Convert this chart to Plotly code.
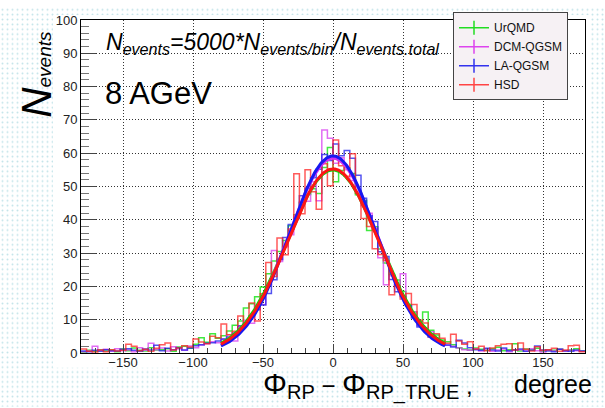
import base64
import numpy as np
import plotly.graph_objects as go

# ---------------- data ----------------
series_names = ["UrQMD", "DCM-QGSM", "LA-QGSM", "HSD"]
bin_low, bin_high, bin_width = -180, 180, 4

urqmd = [0.3, 0.8, 0.5, 1.0, 0.6, 0.9, 0.4, 1.2, 0.7, 1.5, 0.8, 0.6, 1.6, 0.9, 1.0, 1.3, 0.5, 1.8, 2.0, 1.4, 2.6, 4.6,
         3.2, 5.8, 4.4, 5.2, 6.6, 8.3, 9.6, 13.5, 14.8, 16.9, 19.8, 23.8, 27.6, 30.5, 33.8, 38.2, 41.5, 45.1, 47.6, 49.3, 47.9, 55.7, 61.7,
         51.4, 54.8, 55.6, 53.9, 47.5, 45.8, 36.8, 37.9, 31.2, 27.0, 23.6, 21.9, 18.5, 14.6, 12.3, 9.5, 12.3, 6.8, 5.4, 3.9, 3.4, 2.5, 1.6,
         1.2, 0.9, 1.5, 1.1, 0.8, 1.3, 1.7, 0.7, 1.0, 2.8, 0.6, 1.2, 0.9, 1.4, 0.5, 1.0, 0.8, 1.1, 0.7, 0.9, 1.3, 0.6]
dcm_qgsm = [0.4, 0.6, 2.0, 0.8, 1.1, 0.5, 1.3, 0.7, 0.9, 0.4, 1.6, 0.8, 2.9, 1.0, 1.5, 0.6, 1.9, 1.2, 0.8, 2.1, 1.6, 2.4,
            2.8, 3.4, 3.1, 4.1, 5.5, 3.6, 8.2, 9.8, 8.9, 14.4, 14.6, 20.5, 30.8, 27.5, 31.9, 35.5, 41.3, 45.4, 45.6, 51.4, 45.7, 67.0, 64.5,
            57.0, 58.6, 55.0, 51.8, 48.6, 44.2, 42.0, 37.5, 28.6, 20.5, 23.2, 20.3, 23.8, 14.2, 12.4, 8.2, 7.6, 6.4, 4.4, 3.1, 2.3, 2.0, 1.5,
            1.0, 0.8, 1.3, 0.6, 1.1, 0.5, 0.9, 1.2, 0.4, 0.8, 1.0, 0.6, 1.3, 0.7, 0.3, 0.9, 0.6, 1.1, 0.5, 0.8, 0.7, 0.5]
la_qgsm = [0.6, 0.4, 0.8, 0.5, 1.0, 0.7, 0.6, 1.1, 1.3, 0.8, 0.5, 1.2, 0.9, 2.3, 0.7, 1.4, 1.0, 1.6, 0.9, 1.5, 2.2, 2.5,
           2.9, 3.1, 3.6, 4.2, 4.8, 6.0, 8.1, 8.9, 11.2, 13.0, 14.4, 17.9, 22.0, 28.1, 34.7, 38.6, 40.4, 47.2, 49.5, 52.6, 55.2, 59.6, 57.8,
           62.8, 59.2, 60.8, 58.5, 53.4, 46.5, 41.2, 39.5, 30.4, 29.0, 22.1, 18.4, 17.0, 14.2, 10.5, 7.8, 7.0, 4.8, 3.9, 3.0, 2.4, 1.8, 3.8,
           3.0, 1.6, 1.0, 0.8, 1.4, 0.9, 0.6, 1.5, 0.7, 1.0, 1.2, 0.5, 0.8, 2.1, 0.9, 0.6, 0.4, 1.1, 0.7, 0.5, 0.9, 0.6]
hsd = [1.2, 0.5, 0.3, 0.9, 0.4, 1.0, 0.6, 0.8, 2.6, 2.0, 0.7, 1.1, 0.5, 1.4, 2.5, 3.0, 0.9, 1.5, 2.2, 1.8, 4.2, 3.3,
       2.8, 5.0, 4.6, 8.7, 5.5, 6.5, 11.1, 9.0, 15.0, 9.6, 17.8, 27.2, 23.0, 34.5, 29.5, 37.2, 53.8, 41.8, 55.0, 48.4, 43.2, 56.8, 50.2,
       64.0, 56.2, 53.1, 59.8, 48.0, 40.4, 38.0, 31.3, 29.6, 27.8, 17.5, 20.1, 16.2, 17.9, 14.6, 9.8, 9.0, 4.9, 5.8, 4.4, 2.9, 5.6, 3.6,
       2.6, 3.4, 1.2, 2.0, 0.7, 1.5, 2.2, 2.6, 2.8, 0.9, 3.0, 1.1, 0.6, 1.9, 0.8, 1.0, 1.4, 0.5, 0.9, 2.2, 2.3, 0.4]
hist_values = [urqmd, dcm_qgsm, la_qgsm, hsd]

# Gaussian fit parameters
fit_amplitude = [55.0, 58.5, 59.2, 55.3]
fit_mean = [0.0, 0.0, 0.0, 0.0]
fit_sigma = [33.0, 31.5, 31.0, 32.5]
fit_range = [-80, 80]

x_tick_vals = [-150, -100, -50, 0, 50, 100, 150]
y_tick_vals = [0, 10, 20, 30, 40, 50, 60, 70, 80, 90, 100]

# ---------------- styling ----------------
hist_colors = ["rgba(0,225,0,0.75)", "rgba(215,60,240,0.75)", "rgba(25,25,235,0.75)", "rgba(255,35,35,0.75)"]
fit_colors = ["#00dd00", "#d030f0", "#1818f0", "#ff1515"]
legend_colors = ["#22dd22", "#dd44ee", "#3333ee", "#ff4444"]
FONT = "Liberation Sans, Arial, Helvetica, sans-serif"

W, H = 605, 408
ML, MR, MT, MB = 81, 20, 13, 55
PW, PH = W - ML - MR, H - MT - MB


def px2paper_x(px):
    return (px - ML) / PW


def px2paper_y(py):
    return (H - MB - py) / PH


fig = go.Figure()

edges = np.arange(bin_low, bin_high + bin_width, bin_width)
for name, vals, col in zip(series_names, hist_values, hist_colors):
    fig.add_trace(go.Scatter(x=edges, y=list(vals) + [vals[-1]], mode="lines",
                             line=dict(color=col, width=1.5, shape="hv"),
                             showlegend=False, hoverinfo="skip"))

xf = np.linspace(fit_range[0], fit_range[1], 241)
for a, m, s, col in zip(fit_amplitude, fit_mean, fit_sigma, fit_colors):
    fig.add_trace(go.Scatter(x=xf, y=a * np.exp(-0.5 * ((xf - m) / s) ** 2), mode="lines",
                             line=dict(color=col, width=3), showlegend=False, hoverinfo="skip"))

for i, (name, col) in enumerate(zip(series_names, legend_colors)):
    fig.add_trace(go.Scatter(x=[None], y=[None], mode="lines+markers", name=name,
                             line=dict(color=col, width=1.5),
                             marker=dict(symbol="line-ns", size=10, color=col,
                                         line=dict(color=col, width=1.5))))

# dotted slide background with white canvas
svg = (f"<svg xmlns='http://www.w3.org/2000/svg' width='{W}' height='{H}'>"
       "<defs><pattern id='p' width='5' height='5' patternUnits='userSpaceOnUse'>"
       "<circle cx='2.5' cy='2.5' r='1' fill='#c4e4e9'/></pattern></defs>"
       f"<rect width='{W}' height='{H}' fill='url(#p)'/>"
       "<rect x='53' y='8' width='537' height='360' fill='white'/></svg>")
uri = "data:image/svg+xml;base64," + base64.b64encode(svg.encode()).decode()
fig.add_layout_image(dict(source=uri, xref="paper", yref="paper",
                          x=px2paper_x(0), y=px2paper_y(0),
                          sizex=W / PW, sizey=H / PH, sizing="stretch",
                          xanchor="left", yanchor="top", layer="below"))

axis_common = dict(showline=True, linecolor="black", linewidth=1, mirror=True,
                   showgrid=True, gridcolor="#333", gridwidth=1, griddash="1px,2px",
                   zeroline=False, ticks="inside", tickcolor="#444",
                   tickfont=dict(family=FONT, size=13, color="#222"))

fig.update_xaxes(range=[bin_low, bin_high], tickvals=x_tick_vals, ticklen=9, tickwidth=1,
                 ticklabelstandoff=-3,
                 minor=dict(ticks="inside", dtick=10, ticklen=5, tickcolor="#444", showgrid=False),
                 **axis_common)
fig.update_yaxes(range=[0, 100], tickvals=y_tick_vals, ticklen=15, tickwidth=1.2,
                 minor=dict(ticks="inside", dtick=2, ticklen=8, tickcolor="#777", showgrid=False),
                 **axis_common)

ann = []
ann.append(dict(text="<i>N<sub>events</sub>=5000*N<sub>events/bin</sub>/N<sub>events.total</sub></i>",
                x=px2paper_x(104), y=px2paper_y(37), xanchor="left", yanchor="middle",
                font=dict(family=FONT, size=23, color="black")))
ann.append(dict(text="8 AGeV", x=px2paper_x(103), y=px2paper_y(88), xanchor="left", yanchor="middle",
                font=dict(family=FONT, size=31, color="black")))
ann.append(dict(text="<i>N<span style='font-size:19px'>events</span></i>",
                x=px2paper_x(37), y=px2paper_y(69), xanchor="center", yanchor="middle", textangle=-90,
                font=dict(family=FONT, size=42, color="black")))
ann.append(dict(text="<span style='font-size:30px'>Φ</span><sub><span style='font-size:20px'>RP</span></sub> − "
                     "<span style='font-size:30px'>Φ</span><sub><span style='font-size:20px'>RP_TRUE</span></sub> ,",
                x=px2paper_x(261), y=px2paper_y(386), xanchor="left", yanchor="middle",
                font=dict(family=FONT, size=24, color="black")))
ann.append(dict(text="degree", x=px2paper_x(594), y=px2paper_y(385), xanchor="right", yanchor="middle",
                font=dict(family=FONT, size=25, color="black")))
for a in ann:
    a.update(xref="paper", yref="paper", showarrow=False)

fig.update_layout(
    width=W, height=H, autosize=False,
    margin=dict(l=ML, r=MR, t=MT, b=MB, pad=0),
    paper_bgcolor="white", plot_bgcolor="rgba(0,0,0,0)",
    annotations=ann,
    showlegend=True,
    legend=dict(x=px2paper_x(453), y=px2paper_y(5), xanchor="left", yanchor="top",
                bgcolor="#f6f1f4", bordercolor="#444", borderwidth=1,
                font=dict(family=FONT, size=12, color="#111"),
                tracegroupgap=0, itemwidth=30),
)

fig.write_html("out.html", config={"displayModeBar": False},
               post_script="document.body.style.margin='0px';")
